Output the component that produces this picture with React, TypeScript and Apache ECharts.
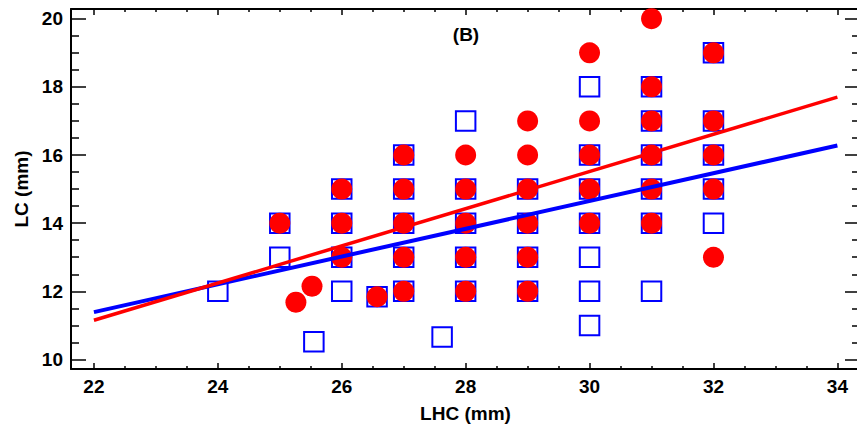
import React, { useEffect, useRef } from "react";
import * as echarts from "echarts";

// Open squares (blue group) as [LHC, LC] pairs in mm
const blueSquares: [number, number][] = [
  [24, 12],
  [25, 14], [25, 13],
  [25.55, 10.52],
  [26, 15], [26, 14], [26, 13], [26, 12],
  [26.57, 11.84],
  [27, 16], [27, 15], [27, 14], [27, 13], [27, 12],
  [27.62, 10.66],
  [28, 17], [28, 15], [28, 14], [28, 13], [28, 12],
  [29, 15], [29, 14], [29, 13], [29, 12],
  [30, 18], [30, 16], [30, 15], [30, 14], [30, 13], [30, 12], [30, 11],
  [31, 18], [31, 17], [31, 16], [31, 15], [31, 14], [31, 12],
  [32, 19], [32, 17], [32, 16], [32, 15], [32, 14],
];

// Filled circles (red group) as [LHC, LC] pairs in mm
const redCircles: [number, number][] = [
  [25, 14],
  [25.26, 11.68],
  [25.52, 12.15],
  [26, 15], [26, 14], [26, 13],
  [26.57, 11.84],
  [27, 16], [27, 15], [27, 14], [27, 13], [27, 12],
  [28, 16], [28, 15], [28, 14], [28, 13], [28, 12],
  [29, 17], [29, 16], [29, 15], [29, 14], [29, 13], [29, 12],
  [30, 19], [30, 17], [30, 16], [30, 15], [30, 14],
  [31, 20], [31, 18], [31, 17], [31, 16], [31, 15], [31, 14],
  [32, 19], [32, 17], [32, 16], [32, 15], [32, 13],
];

// Regression lines, end points
const blueFit: [number, number][] = [[22, 11.39], [34, 16.28]];
const redFit: [number, number][] = [[22, 11.15], [34, 17.7]];

// Axis ticks
const xMajorTicks = [22, 24, 26, 28, 30, 32, 34];
const xMinorTicks = [22.5, 23, 23.5, 24.5, 25, 25.5, 26.5, 27, 27.5, 28.5, 29, 29.5, 30.5, 31, 31.5, 32.5, 33, 33.5];
const yMajorTicks = [10, 12, 14, 16, 18, 20];
const yMinorTicks = [10.5, 11, 11.5, 12.5, 13, 13.5, 14.5, 15, 15.5, 16.5, 17, 17.5, 18.5, 19, 19.5];

const X_MIN = 21.63;
const X_MAX = 34.365;
const Y_MIN = 9.72;
const Y_MAX = 20.285;

const FONT = "'Liberation Sans', Arial, Helvetica, sans-serif";

function tickAxis(
  position: string,
  min: number,
  max: number,
  ticks: number[],
  length: number,
  withLine: boolean,
  withLabels: boolean,
  extra: Record<string, unknown> = {}
) {
  return {
    type: "value",
    position,
    min,
    max,
    axisLine: { show: withLine, onZero: false, lineStyle: { color: "#000", width: 2 } },
    axisTick: {
      show: true,
      inside: true,
      length,
      customValues: ticks,
      lineStyle: { color: "#000", width: 1.5 },
    },
    axisLabel: withLabels
      ? {
          show: true,
          customValues: ticks,
          color: "#000",
          fontFamily: FONT,
          fontWeight: "bold",
          fontSize: 19,
        }
      : { show: false },
    splitLine: { show: false },
    ...extra,
  };
}

export default function App() {
  const ref = useRef<HTMLDivElement>(null);

  useEffect(() => {
    if (!ref.current) return;
    const chart = echarts.init(ref.current, null, { renderer: "svg" });

    chart.setOption({
      animation: false,
      backgroundColor: "#fff",
      graphic: [
        {
          type: "text",
          x: 466,
          y: 34.5,
          style: {
            text: "(B)",
            fontFamily: FONT,
            fontWeight: "bold",
            fontSize: 19,
            fill: "#000",
            textAlign: "center",
            textVerticalAlign: "middle",
          },
        },
      ],
      grid: { left: 71, top: 9, right: 5, bottom: 61, containLabel: false },
      xAxis: [
        tickAxis("bottom", X_MIN, X_MAX, xMajorTicks, 6, true, true, {
          name: "LHC (mm)",
          nameLocation: "middle",
          nameGap: 35,
          nameTextStyle: { fontFamily: FONT, fontWeight: "bold", fontSize: 19, color: "#000" },
        }),
        tickAxis("bottom", X_MIN, X_MAX, xMinorTicks, 3, false, false),
        tickAxis("top", X_MIN, X_MAX, xMajorTicks, 6, true, false),
        tickAxis("top", X_MIN, X_MAX, xMinorTicks, 3, false, false),
      ],
      yAxis: [
        tickAxis("left", Y_MIN, Y_MAX, yMajorTicks, 15, true, true, {
          name: "LC (mm)",
          nameLocation: "middle",
          nameGap: 40,
          nameTextStyle: { fontFamily: FONT, fontWeight: "bold", fontSize: 19, color: "#000" },
        }),
        tickAxis("left", Y_MIN, Y_MAX, yMinorTicks, 8, false, false),
        tickAxis("right", Y_MIN, Y_MAX, yMajorTicks, 15, true, false),
        tickAxis("right", Y_MIN, Y_MAX, yMinorTicks, 8, false, false),
      ],
      series: [
        {
          name: "squares",
          type: "scatter",
          data: blueSquares,
          symbol: "rect",
          symbolSize: 19.5,
          itemStyle: { color: "rgba(0,0,0,0)", borderColor: "#0000ff", borderWidth: 2, opacity: 1 },
          z: 2,
        },
        {
          name: "circles",
          type: "scatter",
          data: redCircles,
          symbol: "circle",
          symbolSize: 21,
          itemStyle: { color: "#ff0000", opacity: 1 },
          z: 3,
        },
        {
          name: "blue fit",
          type: "line",
          data: blueFit,
          symbol: "none",
          lineStyle: { color: "#0000ff", width: 4 },
          z: 4,
        },
        {
          name: "red fit",
          type: "line",
          data: redFit,
          symbol: "none",
          lineStyle: { color: "#ff0000", width: 3.5 },
          z: 5,
        },
      ],
    });

    return () => chart.dispose();
  }, []);

  return <div ref={ref} style={{ width: 865, height: 430, marginLeft: -8, marginTop: -8 }} />;
}
